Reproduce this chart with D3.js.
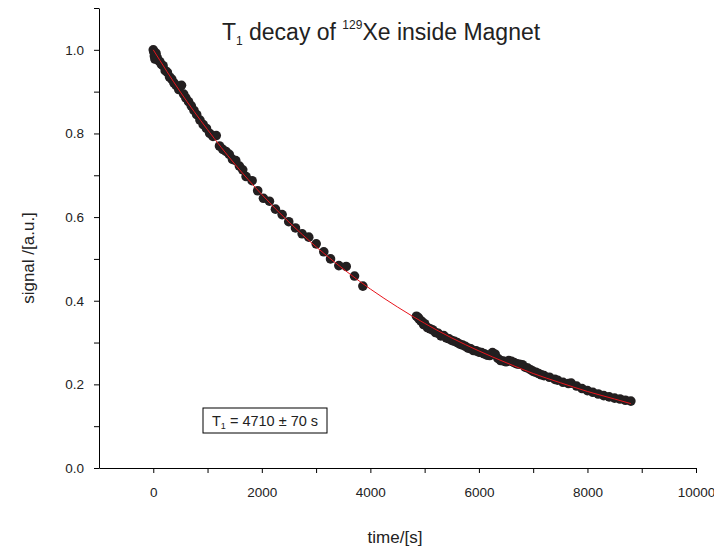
<!DOCTYPE html>
<html>
<head>
<meta charset="utf-8">
<script src="https://cdn.jsdelivr.net/npm/d3@7"></script>
<style>
  body { margin: 0; background: #fff; }
  svg { display: block; font-family: "Liberation Sans", Arial, sans-serif; }
</style>
</head>
<body>
<svg id="chart" width="714" height="552"></svg>
<script>
// measured signal, first run (0 - 3900 s)
const time1 = [0, 10, 20, 30, 50, 70, 90, 120, 150, 180, 220, 260, 300, 340, 380, 420, 470, 520, 560, 600,
  650, 700, 750, 800, 860, 920, 980, 1040, 1100, 1160, 1220, 1280, 1340, 1400, 1460, 1520, 1587, 1648, 1710, 1821,
  1924, 2030, 2140, 2251, 2374, 2496, 2620, 2743, 2865, 3002, 3142, 3266, 3419, 3555, 3708, 3862];
const signal1 = [1.000, 0.995, 0.985, 0.978, 0.992, 0.982, 0.975, 0.972, 0.965, 0.962, 0.950, 0.946, 0.935, 0.930, 0.921, 0.915, 0.905, 0.915, 0.894, 0.885,
  0.876, 0.866, 0.855, 0.845, 0.832, 0.821, 0.812, 0.800, 0.793, 0.795, 0.770, 0.762, 0.757, 0.750, 0.738, 0.735, 0.722, 0.713, 0.697, 0.687,
  0.663, 0.645, 0.638, 0.619, 0.606, 0.589, 0.574, 0.560, 0.552, 0.536, 0.517, 0.500, 0.484, 0.482, 0.459, 0.435];

// measured signal, second run (4850 - 8800 s)
const time2 = [4850, 4880, 4900, 4930, 4950, 4980, 5000, 5050, 5100, 5150, 5200, 5250, 5300, 5350, 5400, 5450, 5500, 5550, 5600, 5650,
  5700, 5750, 5800, 5850, 5900, 5950, 6000, 6050, 6100, 6150, 6200, 6250, 6300, 6350, 6400, 6450, 6500, 6550, 6600, 6650,
  6700, 6750, 6800, 6850, 6900, 6950, 7000, 7050, 7100, 7150, 7200, 7300, 7400, 7450, 7550, 7650, 7700, 7800, 7900, 8000,
  8100, 8200, 8300, 8400, 8500, 8600, 8700, 8800];
const signal2 = [0.363, 0.360, 0.356, 0.352, 0.350, 0.343, 0.345, 0.336, 0.333, 0.330, 0.324, 0.322, 0.316, 0.317, 0.311, 0.309, 0.305, 0.303, 0.300, 0.296,
  0.294, 0.291, 0.287, 0.285, 0.281, 0.280, 0.277, 0.276, 0.273, 0.270, 0.269, 0.276, 0.272, 0.262, 0.257, 0.256, 0.254, 0.257, 0.255, 0.252,
  0.249, 0.248, 0.247, 0.241, 0.239, 0.235, 0.231, 0.229, 0.226, 0.223, 0.221, 0.217, 0.212, 0.210, 0.205, 0.202, 0.203, 0.196, 0.190, 0.185,
  0.181, 0.177, 0.173, 0.170, 0.167, 0.165, 0.162, 0.160];

// exponential fit curve (T1 = 4710 s)
const fitTime = [0, 500, 1000, 1500, 2000, 2500, 3000, 3500, 4000, 4500, 5000, 5500, 6000, 6500, 7000, 7500, 8000, 8500, 8800];
const fitSignal = [1.000, 0.899, 0.809, 0.727, 0.654, 0.588, 0.529, 0.476, 0.428, 0.385, 0.346, 0.311, 0.280, 0.252, 0.226, 0.204, 0.183, 0.165, 0.154];

const xMajor = [0, 2000, 4000, 6000, 8000, 10000];
const xMinor = [1000, 3000, 5000, 7000, 9000];
const yMajor = [0.0, 0.2, 0.4, 0.6, 0.8, 1.0];
const yMinor = [0.1, 0.3, 0.5, 0.7, 0.9, 1.1];

const svg = d3.select('#chart');
const ink = '#222';

const x = d3.scaleLinear().domain([-1000, 10000]).range([99, 696]);
const y = d3.scaleLinear().domain([0, 1.1]).range([468, 8]);

// points
const points = time1.map((t, i) => ({ t, v: signal1[i] }))
  .concat(time2.map((t, i) => ({ t, v: signal2[i] })));

svg.append('g')
  .selectAll('circle')
  .data(points)
  .join('circle')
  .attr('cx', d => x(d.t))
  .attr('cy', d => y(d.v))
  .attr('r', 4.8)
  .attr('fill', '#231f20');

// fit line on top
const line = d3.line()
  .x((d, i) => x(fitTime[i]))
  .y(d => y(d))
  .curve(d3.curveMonotoneX);

svg.append('path')
  .attr('d', line(fitSignal))
  .attr('fill', 'none')
  .attr('stroke', '#e8141c')
  .attr('stroke-width', 1);

// axes
svg.append('g')
  .attr('transform', `translate(0, ${y(0)})`)
  .call(d3.axisBottom(x).tickValues(xMajor).tickFormat(d3.format('d'))
    .tickSize(5).tickSizeOuter(0).tickPadding(14));
svg.append('g')
  .attr('transform', `translate(0, ${y(0)})`)
  .call(d3.axisBottom(x).tickValues(xMinor).tickFormat('').tickSize(5).tickSizeOuter(0))
  .select('.domain').remove();

svg.append('g')
  .attr('transform', `translate(${x(-1000)}, 0)`)
  .call(d3.axisLeft(y).tickValues(yMajor).tickFormat(d3.format('.1f'))
    .tickSize(5).tickSizeOuter(0).tickPadding(10));
svg.append('g')
  .attr('transform', `translate(${x(-1000)}, 0)`)
  .call(d3.axisLeft(y).tickValues(yMinor).tickFormat('').tickSize(5).tickSizeOuter(0))
  .select('.domain').remove();

svg.selectAll('.tick text')
  .attr('font-size', 13.5)
  .attr('fill', ink)
  .attr('font-family', '"Liberation Sans", Arial, sans-serif');
svg.selectAll('.domain, .tick line').attr('stroke', '#000');

// axis titles
svg.append('text')
  .attr('x', 395)
  .attr('y', 543)
  .attr('text-anchor', 'middle')
  .attr('font-size', 17)
  .attr('fill', ink)
  .text('time/[s]');

svg.append('text')
  .attr('transform', 'rotate(-90)')
  .attr('x', -258)
  .attr('y', 34)
  .attr('text-anchor', 'middle')
  .attr('font-size', 17)
  .attr('fill', ink)
  .text('signal /[a.u.]');

// title
const title = svg.append('text')
  .attr('x', 381)
  .attr('y', 40)
  .attr('text-anchor', 'middle')
  .attr('font-size', 23)
  .attr('fill', ink);
title.append('tspan').text('T');
title.append('tspan').attr('font-size', 12).attr('dy', 5).text('1');
title.append('tspan').attr('dy', -5).text(' decay of ');
title.append('tspan').attr('font-size', 12).attr('dy', -11).text('129');
title.append('tspan').attr('dy', 11).text('Xe inside Magnet');

// result box
svg.append('rect')
  .attr('x', 203)
  .attr('y', 408)
  .attr('width', 124)
  .attr('height', 25)
  .attr('fill', '#fff')
  .attr('stroke', '#000')
  .attr('stroke-width', 1);

const note = svg.append('text')
  .attr('x', 212)
  .attr('y', 426)
  .attr('font-size', 14.5)
  .attr('fill', ink);
note.append('tspan').text('T');
note.append('tspan').attr('font-size', 9).attr('dy', 3).text('1');
note.append('tspan').attr('dy', -3).text(' = 4710 \u00b1 70 s');
</script>
</body>
</html>
